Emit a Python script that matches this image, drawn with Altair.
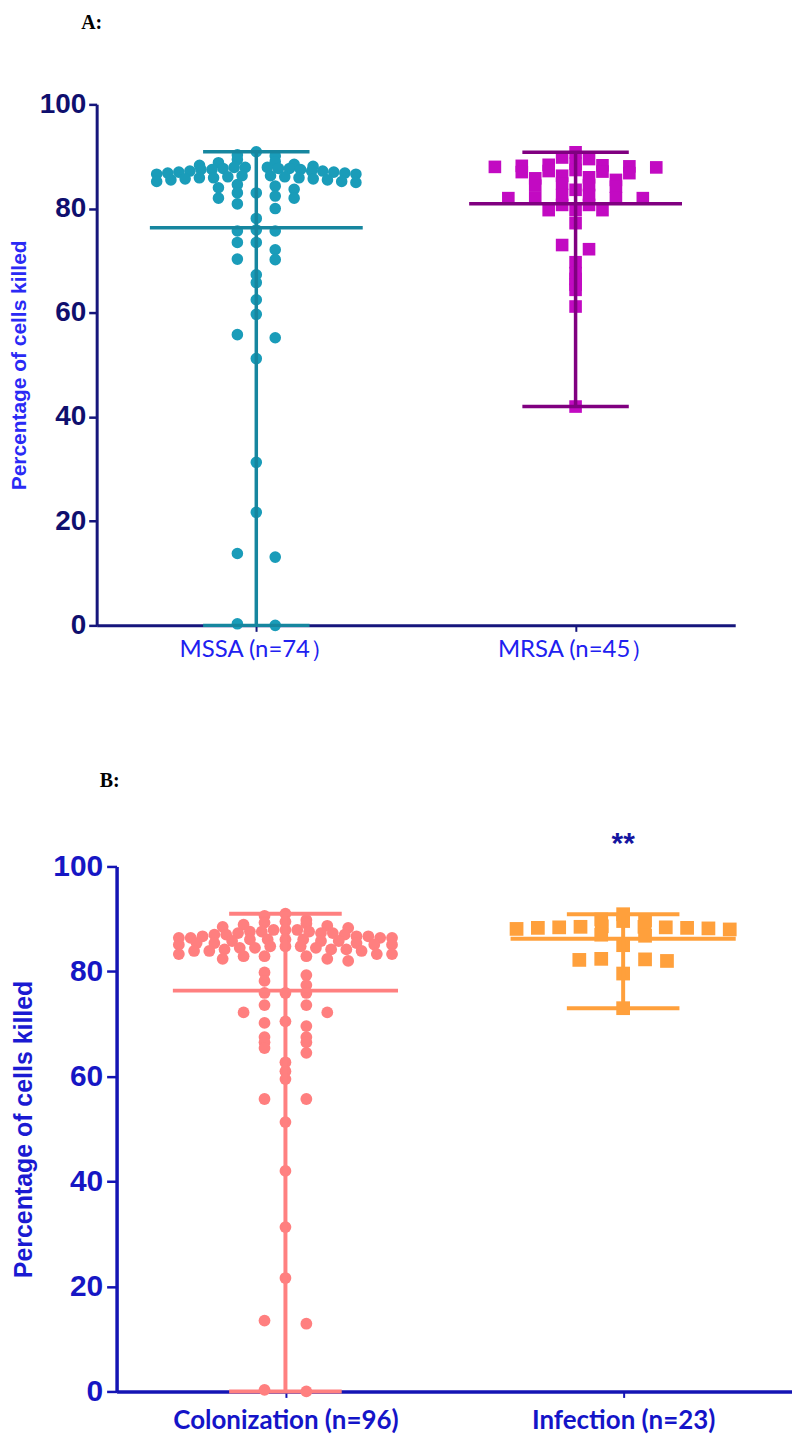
import json
import math
import altair as alt
import pandas as pd

# ---------------- data ----------------
cats_a = ["MSSA (n=74）", "MRSA (n=45）"]
cats_b = ["Colonization (n=96)", "Infection (n=23)"]
y_ticks = [0, 20, 40, 60, 80, 100]
y_title = "Percentage of cells killed"
panel_a_label = "A:"
panel_b_label = "B:"
signif_label = "**"

mssa = [90.9, 90.3, 90.1,
        89.4, 89.0, 88.8, 88.5, 88.3, 88.1,
        87.9, 87.9, 87.9, 87.7, 87.7, 87.7, 87.5, 87.5, 87.5,
        87.2, 87.2, 87.2, 87.0, 87.0, 86.8, 86.8, 86.6, 86.6,
        86.3, 86.3, 86.1, 86.1, 85.9, 85.9, 85.9, 85.7, 85.7,
        85.5, 85.5, 85.2, 85.2, 85.0,
        84.6, 84.3, 84.0, 83.7,
        83.0, 82.0, 82.4, 83.0, 82.0, 80.0, 80.9, 78.1,
        75.7, 75.7, 75.9, 73.5, 73.5, 72.1, 70.2, 70.3,
        67.3, 65.8, 62.5, 59.7, 55.8, 55.2, 51.2, 31.3,
        21.7, 13.8, 13.1, 0.0, 0.3]

mrsa = [90.8, 89.8, 89.5, 88.6, 88.4, 88.3, 88.2, 88.1, 88.0, 87.9,
        87.4, 87.2, 87.1, 87.0, 86.8, 86.3, 86.0, 85.8, 85.5,
        84.8, 84.5, 84.4, 84.2, 83.6,
        82.6, 82.6, 82.0, 82.0, 82.0, 82.0, 80.7, 80.7,
        79.7, 79.7, 79.7, 77.2, 73.0, 72.2, 69.7, 67.6,
        66.5, 65.4, 64.4, 61.2, 42.0]

colonization = [91.0, 90.6,
                89.8, 89.5, 89.3, 89.1, 88.9, 88.7, 88.5, 88.3,
                87.9, 87.9, 87.9, 87.6, 87.6, 87.6, 87.3, 87.3, 87.3,
                87.0, 87.0, 87.0,
                86.7, 86.7, 86.7, 86.4, 86.4, 86.4, 86.4, 86.1, 86.1,
                86.1, 86.1, 85.8, 85.8, 85.8,
                85.4, 85.4, 85.4, 85.1, 85.1, 85.1, 84.8, 84.8, 84.8,
                84.5, 84.5, 84.5, 84.2, 84.2, 84.2, 83.9, 83.9, 83.9,
                83.3, 83.3, 83.3, 82.9, 82.9, 82.9, 82.4, 82.4, 82.0,
                79.8, 78.2, 79.3, 77.4, 75.9, 75.9, 75.9, 73.6, 73.6,
                72.2, 72.2, 70.2, 69.6, 70.5, 67.5, 67.5, 66.5, 66.5,
                65.4, 64.5, 62.7, 61.0, 59.5, 55.7, 55.7, 51.3, 42.0,
                31.3, 21.6, 13.5, 12.9, 0.0, 0.3]

infection = [90.9, 89.9, 89.7, 89.6,
             88.6, 88.5, 88.5, 88.4, 88.4, 88.3, 88.3, 88.2, 88.1, 88.0,
             87.0, 86.8, 85.0,
             82.4, 82.2, 82.0, 82.3, 79.6, 73.0]


# ------------- scatter-dot layout (computed) -------------
def swarm(vals, binw, step, maxhalf, even_half=False):
    order = sorted(range(len(vals)), key=lambda i: -vals[i])
    bins = {}
    for i in order:
        bins.setdefault(math.floor(vals[i] / binw), []).append(i)
    off = [0.0] * len(vals)
    for members in bins.values():
        m = len(members)
        if m % 2:
            slots = [0]
            k = 1
            while len(slots) < m:
                slots += [-k, k]
                k += 1
        else:
            base = 0.5 if even_half else 1.0
            slots = []
            k = 0
            while len(slots) < m:
                slots += [-(base + k), base + k]
                k += 1
        slots = slots[:m]
        far = max(abs(s) for s in slots)
        st = step if far * step <= maxhalf else maxhalf / far
        for i, s in zip(members, slots):
            off[i] = s * st
    return off


def panel(series, cats, W, H, st):
    x0 = st["x0"]
    ppu = (W - x0) / 2.0
    xscale = alt.Scale(domain=[-0.5, 1.5], range=[x0, W], nice=False, zero=False)
    yscale = alt.Scale(domain=[0, 100], nice=False, zero=False)
    xaxis = alt.Axis(values=[0, 1], labelExpr=f"{json.dumps(cats)}[datum.value]",
                     title=None, grid=False, domainColor=st["axis"], domainWidth=st["dw"],
                     tickColor=st["axis"], tickWidth=2, tickSize=6, labelLimit=500,
                     labelFont=st["xfont"], labelFontSize=st["xfs"], labelFontWeight=st["xfw"],
                     labelColor=st["xcol"], labelPadding=st["xpad"], labelAngle=0)
    yaxis = alt.Axis(values=y_ticks, title=y_title, grid=False, offset=-x0,
                     domainColor=st["axis"], domainWidth=st["dw"],
                     tickColor=st["axis"], tickWidth=2.5, tickSize=st["ts"],
                     labelFont="Liberation Sans", labelFontSize=st["yfs"], labelFontWeight="bold",
                     labelColor=st["ycol"], labelPadding=st["ypad"],
                     titleFont="Liberation Sans", titleFontSize=st["tfs"], titleFontWeight="bold",
                     titleColor=st["tcol"], titlePadding=st["tpad"])

    def X(f):
        return alt.X(f, type="quantitative", scale=xscale, axis=xaxis)

    def Y(f):
        return alt.Y(f, type="quantitative", scale=yscale, axis=yaxis)

    layers = []
    for g, vals in enumerate(series):
        offs = swarm(vals, st["binw"][g], st["step"][g] / ppu, st["maxhalf"] / ppu,
                     st["even_half"][g])
        df = pd.DataFrame({"grp": [g] * len(vals), "value": vals,
                           "xpos": [g + o for o in offs]})
        pts = alt.Chart(df).mark_point(filled=True, shape=st["shapes"][g], size=st["sizes"][g],
                                       color=st["pcol"][g], opacity=1, strokeWidth=0).encode(
            x=X("xpos"), y=Y("value"))
        agg = alt.Chart(df).transform_aggregate(
            m="mean(value)", lo="min(value)", hi="max(value)", groupby=["grp"]
        ).transform_calculate(
            ml="datum.grp - 1/3", mr="datum.grp + 1/3",
            wl="datum.grp - 1/6", wr="datum.grp + 1/6")
        rk = dict(color=st["lcol"][g], strokeWidth=st["lw"], strokeCap="butt")
        vline = agg.mark_rule(**rk).encode(x=X("grp"), y=Y("lo"), y2="hi:Q")
        mline = agg.mark_rule(**rk).encode(x=X("ml"), x2="mr:Q", y=Y("m"))
        top = agg.mark_rule(**rk).encode(x=X("wl"), x2="wr:Q", y=Y("hi"))
        bot = agg.mark_rule(**rk).encode(x=X("wl"), x2="wr:Q", y=Y("lo"))
        layers += [pts, vline, mline, top, bot]
    return layers, X, Y


style_a = dict(x0=0, axis="#16167c", dw=3, ts=8, xfont="Lato", xfs=24, xfw="normal",
               xcol="#2020f0", xpad=6, yfs=28, ycol="#0f0f6e", ypad=3, tfs=21,
               tcol="#2a2af5", tpad=10, binw=[1.6, 1.2], step=[19, 27], maxhalf=100,
               even_half=[False, True],
               shapes=["circle", "square"], sizes=[135, 160],
               pcol=["#1a9cb9", "#c20ac2"], lcol=["#16869f", "#800080"], lw=3.5)
style_b = dict(x0=20, axis="#1414b4", dw=3.5, ts=10, xfont="Lato", xfs=26, xfw="bold",
               xcol="#1414c8", xpad=10, yfs=30, ycol="#1616c4", ypad=4, tfs=25,
               tcol="#1a1ad2", tpad=16, binw=[1.6, 1.6], step=[21, 22], maxhalf=107,
               even_half=[False, False],
               shapes=["circle", "square"], sizes=[140, 190],
               pcol=["#ff7f7f", "#ffa03c"], lcol=["#ff8080", "#ffa03c"], lw=4)

WA, HA = 641, 523
WB, HB = 698, 527

label_font = dict(font="Liberation Serif", fontSize=20, fontWeight="bold", color="black",
                  align="center", baseline="middle")

layers_a, XA, YA = panel([mssa, mrsa], cats_a, WA, HA, style_a)
tag_a = alt.Chart(pd.DataFrame({"t": [panel_a_label]})).mark_text(**label_font).encode(
    x=alt.value(-5), y=alt.value(-82), text="t:N")
chart_a = alt.layer(*layers_a, tag_a).properties(width=WA, height=HA)

layers_b, XB, YB = panel([colonization, infection], cats_b, WB, HB, style_b)
star = alt.Chart(pd.DataFrame({"grp": [1], "t": [signif_label]})).mark_text(
    font="Liberation Sans", fontSize=30, fontWeight="bold", color="#1515a0",
    baseline="middle").encode(x=XB("grp"), y=alt.value(-22), text="t:N")
tag_b = alt.Chart(pd.DataFrame({"t": [panel_b_label]})).mark_text(**label_font).encode(
    x=alt.value(13), y=alt.value(-86), text="t:N")
chart_b = alt.layer(*layers_b, star, tag_b).properties(width=WB, height=HB)

chart = alt.vconcat(chart_a, chart_b, spacing=110).configure_view(
    stroke=None).properties(background="white",
                            padding={"left": 0, "top": 2, "right": 0, "bottom": 0})

chart.save("out.html", embed_options={"renderer": "svg", "actions": False})
